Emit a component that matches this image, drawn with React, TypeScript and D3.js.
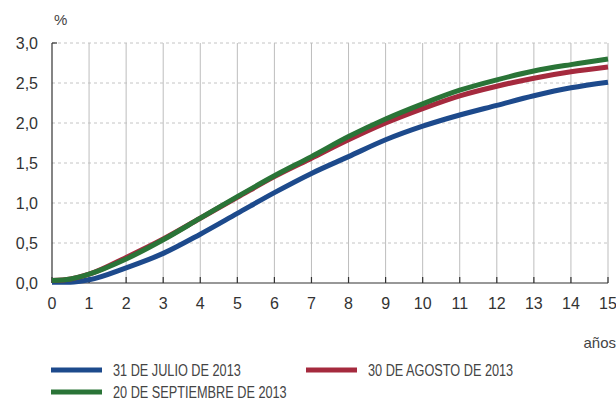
import React from "react";
import * as d3 from "d3";

const years = [0, 0.5, 1, 2, 3, 4, 5, 6, 7, 8, 9, 10, 11, 12, 13, 14, 15];
const julio = [0.01, 0.01, 0.04, 0.19, 0.37, 0.61, 0.87, 1.13, 1.37, 1.58, 1.79, 1.96, 2.1, 2.22, 2.34, 2.44, 2.51];
const agosto = [0.03, 0.05, 0.11, 0.32, 0.55, 0.81, 1.07, 1.33, 1.56, 1.79, 2.0, 2.18, 2.34, 2.46, 2.56, 2.64, 2.7];
const septiembre = [0.03, 0.05, 0.11, 0.3, 0.54, 0.81, 1.08, 1.34, 1.58, 1.83, 2.05, 2.24, 2.41, 2.54, 2.65, 2.73, 2.8];
const xTicks = d3.range(0, 16);
const yTicks = [0, 0.5, 1, 1.5, 2, 2.5, 3];

const series = [
  { name: "31 DE JULIO DE 2013", values: julio, color: "#1d4a8c" },
  { name: "30 DE AGOSTO DE 2013", values: agosto, color: "#a52a3e" },
  { name: "20 DE SEPTIEMBRE DE 2013", values: septiembre, color: "#2a7437" },
];

export default function App() {
  const margin = { top: 43, right: 8, bottom: 117, left: 52 };
  const W = 616;
  const H = 400;

  const x = d3.scaleLinear().domain([0, 15]).range([margin.left, W - margin.right]);
  const y = d3.scaleLinear().domain([0, 3]).range([H - margin.bottom, margin.top]);

  const line = d3
    .line<number>()
    .x((_, i) => x(years[i]))
    .y((d) => y(d))
    .curve(d3.curveMonotoneX);

  const fmt = (v: number) => v.toFixed(1).replace(".", ",");
  const tickFont = "'Liberation Sans', Arial, sans-serif";

  // legend slots: two columns, second row under the first
  const legendPos = [
    { lx: 51, ly: 370 },
    { lx: 306, ly: 370 },
    { lx: 51, ly: 392 },
  ];

  return (
    <svg width={W} height={H} style={{ position: "absolute", left: 0, top: 0, background: "#fff" }}>
      {/* horizontal dashed grid */}
      {yTicks.slice(1).map((t) => (
        <line key={"h" + t} x1={x(0)} x2={x(15)} y1={y(t)} y2={y(t)} stroke="#c4c4c4" strokeWidth={1} strokeDasharray="3,3" />
      ))}
      {/* vertical grid */}
      {xTicks.slice(1).map((t) => (
        <line key={"v" + t} x1={x(t)} x2={x(t)} y1={y(3)} y2={y(0)} stroke="#bdbdbd" strokeWidth={1} />
      ))}
      {/* axes */}
      <line x1={x(0)} x2={x(0)} y1={y(3)} y2={y(0)} stroke="#333" strokeWidth={1.2} />
      <line x1={x(0)} x2={x(15)} y1={y(0)} y2={y(0)} stroke="#333" strokeWidth={1.2} />
      {xTicks.map((t) => (
        <line key={"t" + t} x1={x(t)} x2={x(t)} y1={y(0)} y2={y(0) - 6} stroke="#333" strokeWidth={1.2} />
      ))}
      <line x1={x(0)} x2={x(0) + 5} y1={y(3)} y2={y(3)} stroke="#333" strokeWidth={1.2} />

      {/* tick labels */}
      {yTicks.map((t) => (
        <text key={"yl" + t} x={38} y={y(t)} dy="0.35em" textAnchor="end" fontFamily={tickFont} fontSize={16} fill="#333">
          {fmt(t)}
        </text>
      ))}
      {xTicks.map((t) => (
        <text key={"xl" + t} x={x(t)} y={303} dy="0.35em" textAnchor="middle" fontFamily={tickFont} fontSize={16} fill="#333">
          {t}
        </text>
      ))}
      <text x={54} y={20} dy="0.35em" fontFamily={tickFont} fontSize={15} fill="#444">%</text>
      <text x={616} y={343} dy="0.35em" textAnchor="end" fontFamily={tickFont} fontSize={15} fill="#444">años</text>

      {/* series */}
      {series.map((s) => (
        <path key={s.name} d={line(s.values) || ""} fill="none" stroke={s.color} strokeWidth={5} />
      ))}

      {/* legend */}
      {series.map((s, i) => (
        <g key={"lg" + s.name} transform={`translate(${legendPos[i].lx},${legendPos[i].ly})`}>
          <line x1={0} x2={51} y1={0} y2={0} stroke={s.color} strokeWidth={5} />
          <text transform="translate(62,0) scale(0.77,1)" dy="0.35em" fontFamily={tickFont} fontSize={16.5} fill="#444">
            {s.name}
          </text>
        </g>
      ))}
    </svg>
  );
}
